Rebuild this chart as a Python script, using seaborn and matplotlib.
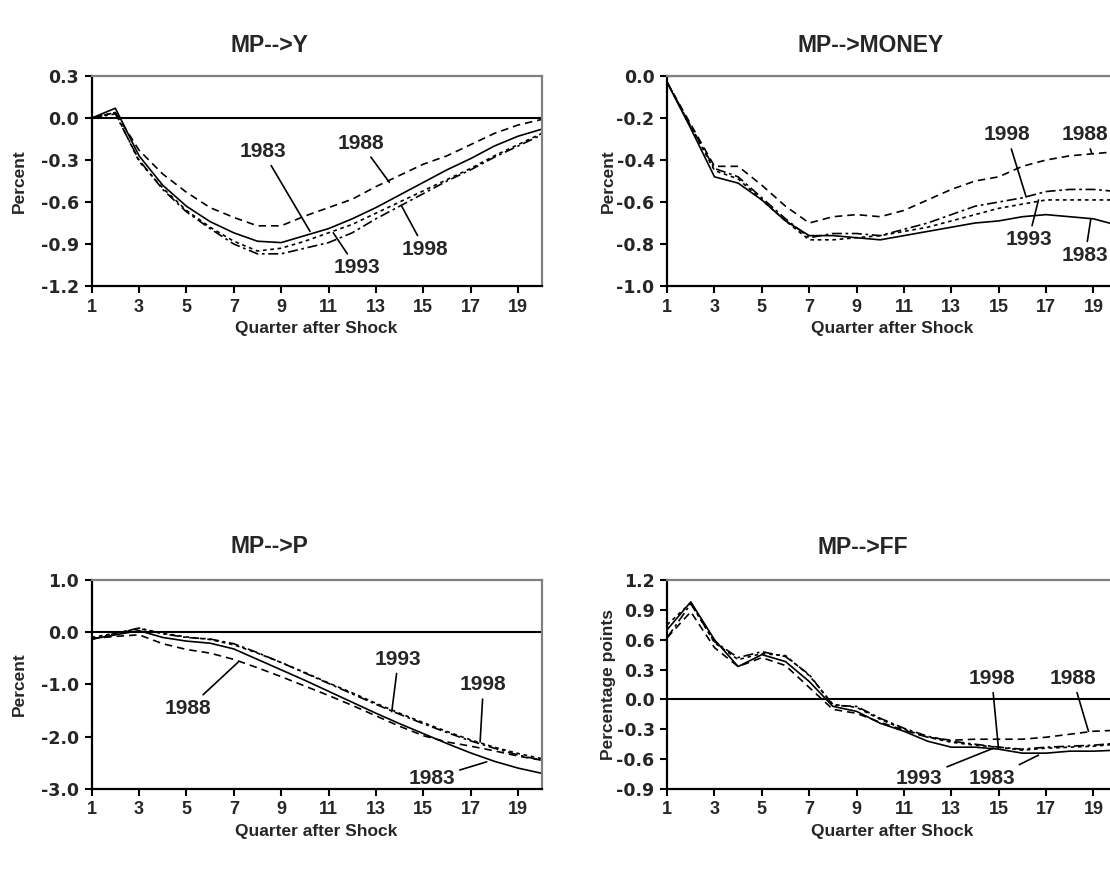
import matplotlib
matplotlib.use("Agg")
import matplotlib.pyplot as plt
import pandas as pd
import seaborn as sns
from matplotlib.ticker import FormatStrFormatter

# ── Data: impulse responses to a monetary policy shock, by sample end year ──
quarters = list(range(1, 21))
years = ["1983", "1988", "1993", "1998"]

# MP-->Y (percent)
y_1983 = [0.00, 0.07, -0.27, -0.48, -0.63, -0.74, -0.82, -0.88, -0.89, -0.84,
          -0.79, -0.72, -0.64, -0.55, -0.46, -0.37, -0.29, -0.20, -0.13, -0.08]
y_1988 = [0.00, 0.04, -0.23, -0.40, -0.53, -0.64, -0.71, -0.77, -0.77, -0.70,
          -0.64, -0.58, -0.49, -0.41, -0.33, -0.27, -0.19, -0.11, -0.05, -0.01]
y_1993 = [0.00, 0.04, -0.31, -0.50, -0.66, -0.78, -0.88, -0.95, -0.93, -0.88,
          -0.82, -0.76, -0.68, -0.60, -0.52, -0.44, -0.36, -0.27, -0.19, -0.11]
y_1998 = [0.00, 0.03, -0.30, -0.51, -0.67, -0.79, -0.90, -0.97, -0.97, -0.93,
          -0.89, -0.82, -0.72, -0.63, -0.54, -0.45, -0.37, -0.28, -0.20, -0.12]

# MP-->MONEY (percent)
m_1983 = [-0.03, -0.25, -0.48, -0.51, -0.59, -0.69, -0.76, -0.76, -0.77, -0.78,
          -0.76, -0.74, -0.72, -0.70, -0.69, -0.67, -0.66, -0.67, -0.68, -0.71]
m_1988 = [-0.03, -0.23, -0.43, -0.43, -0.52, -0.62, -0.70, -0.67, -0.66, -0.67,
          -0.64, -0.59, -0.54, -0.50, -0.48, -0.43, -0.40, -0.38, -0.37, -0.36]
m_1993 = [-0.03, -0.24, -0.45, -0.49, -0.59, -0.69, -0.78, -0.78, -0.77, -0.76,
          -0.74, -0.72, -0.69, -0.66, -0.63, -0.61, -0.59, -0.59, -0.59, -0.59]
m_1998 = [-0.03, -0.24, -0.44, -0.48, -0.58, -0.68, -0.77, -0.75, -0.75, -0.76,
          -0.73, -0.70, -0.66, -0.62, -0.60, -0.58, -0.55, -0.54, -0.54, -0.55]

# MP-->P (percent)
p_1983 = [-0.13, -0.05, 0.03, -0.10, -0.17, -0.21, -0.32, -0.52, -0.72, -0.92,
          -1.13, -1.34, -1.55, -1.75, -1.94, -2.13, -2.31, -2.47, -2.60, -2.70]
p_1988 = [-0.12, -0.08, -0.05, -0.22, -0.33, -0.40, -0.52, -0.68, -0.85, -1.03,
          -1.21, -1.40, -1.60, -1.80, -1.98, -2.10, -2.18, -2.27, -2.37, -2.45]
p_1993 = [-0.10, -0.02, 0.07, -0.02, -0.09, -0.14, -0.24, -0.40, -0.58, -0.77,
          -0.97, -1.16, -1.36, -1.55, -1.73, -1.90, -2.06, -2.20, -2.32, -2.42]
p_1998 = [-0.14, -0.02, 0.08, -0.03, -0.10, -0.13, -0.22, -0.39, -0.58, -0.78,
          -0.98, -1.18, -1.38, -1.57, -1.75, -1.92, -2.08, -2.22, -2.35, -2.45]

# MP-->FF (percentage points)
f_1983 = [0.70, 0.98, 0.60, 0.33, 0.45, 0.38, 0.18, -0.07, -0.12, -0.24,
          -0.32, -0.42, -0.48, -0.48, -0.50, -0.54, -0.54, -0.52, -0.52, -0.51]
f_1988 = [0.62, 0.88, 0.52, 0.33, 0.42, 0.34, 0.12, -0.10, -0.14, -0.23,
          -0.31, -0.38, -0.41, -0.40, -0.40, -0.40, -0.38, -0.35, -0.32, -0.31]
f_1993 = [0.75, 0.97, 0.57, 0.40, 0.46, 0.44, 0.24, -0.05, -0.08, -0.20,
          -0.30, -0.38, -0.43, -0.46, -0.48, -0.51, -0.49, -0.48, -0.47, -0.45]
f_1998 = [0.62, 0.96, 0.58, 0.42, 0.48, 0.43, 0.25, -0.06, -0.07, -0.19,
          -0.29, -0.37, -0.42, -0.45, -0.48, -0.50, -0.48, -0.47, -0.46, -0.44]

# ── Style ──────────────────────────────────────────────────────────────────
sns.set_theme(style="white")
plt.rcParams["font.family"] = ["Liberation Sans", "DejaVu Sans"]
plt.rcParams["font.weight"] = "bold"

LINE_DASHES = {"1983": "", "1988": (4.5, 3), "1993": (2.2, 2.2), "1998": (6, 2.2, 1.6, 2.2)}
GREY = "#808080"


def long_frame(series):
    wide = pd.DataFrame(dict(zip(years, series)))
    wide["quarter"] = quarters
    return wide.melt(id_vars="quarter", var_name="year", value_name="value")


panels = [
    dict(title="MP-->Y", ylabel="Percent", data=[y_1983, y_1988, y_1993, y_1998],
         ylim=(-1.2, 0.3), yticks=[0.3, 0.0, -0.3, -0.6, -0.9, -1.2],
         rect=[0.0826, 0.672, 0.4054, 0.2408], title_xy=(0.243, 0.948),
         notes=[("1983", (8.23, -0.24), (10.22, -0.81)),
                ("1988", (12.36, -0.18), (13.57, -0.46)),
                ("1993", (12.19, -1.07), (11.20, -0.82)),
                ("1998", (15.08, -0.94), (14.09, -0.63))]),
    dict(title="MP-->MONEY", ylabel="Percent", data=[m_1983, m_1988, m_1993, m_1998],
         ylim=(-1.0, 0.0), yticks=[0.0, -0.2, -0.4, -0.6, -0.8, -1.0],
         rect=[0.601, 0.672, 0.4054, 0.2408], title_xy=(0.784, 0.948),
         notes=[("1998", (15.35, -0.28), (16.16, -0.576)),
                ("1988", (18.65, -0.28), (18.93, -0.367)),
                ("1993", (16.26, -0.78), (16.68, -0.59)),
                ("1983", (18.65, -0.855), (18.89, -0.68))]),
    dict(title="MP-->P", ylabel="Percent", data=[p_1983, p_1988, p_1993, p_1998],
         ylim=(-3.0, 1.0), yticks=[1.0, 0.0, -1.0, -2.0, -3.0],
         rect=[0.0826, 0.0952, 0.4054, 0.2397], title_xy=(0.243, 0.373),
         notes=[("1988", (5.08, -1.46), (7.19, -0.57)),
                ("1993", (13.95, -0.52), (13.67, -1.52)),
                ("1998", (17.54, -1.01), (17.40, -2.10)),
                ("1983", (15.36, -2.80), (17.68, -2.48))]),
    dict(title="MP-->FF", ylabel="Percentage points", data=[f_1983, f_1988, f_1993, f_1998],
         ylim=(-0.9, 1.2), yticks=[1.2, 0.9, 0.6, 0.3, 0.0, -0.3, -0.6, -0.9],
         rect=[0.601, 0.0952, 0.4054, 0.2397], title_xy=(0.777, 0.372),
         notes=[("1998", (14.71, 0.21), (14.99, -0.49)),
                ("1988", (18.13, 0.21), (18.79, -0.32)),
                ("1993", (11.64, -0.79), (14.78, -0.49)),
                ("1983", (14.73, -0.79), (16.68, -0.56))]),
]

fig = plt.figure(figsize=(11.1, 8.72), dpi=100)

for p in panels:
    ax = fig.add_axes(p["rect"])
    ax.axhline(0, color="black", lw=1.5, zorder=1)
    sns.lineplot(data=long_frame(p["data"]), x="quarter", y="value",
                 style="year", dashes=LINE_DASHES, color="black",
                 linewidth=1.2, legend=False, ax=ax)

    ax.set_xlim(1, 20)
    ax.set_ylim(*p["ylim"])
    ax.set_xticks(range(1, 20, 2))
    ax.set_yticks(p["yticks"])
    ax.yaxis.set_major_formatter(FormatStrFormatter("%.1f"))
    ax.tick_params(axis="both", direction="out", length=5, width=1.5,
                   color="black", pad=4, left=True, bottom=True)
    for lab in ax.get_xticklabels():
        lab.set_fontweight("bold")
        lab.set_fontsize(13)
    for lab in ax.get_yticklabels():
        lab.set_family(["DejaVu Sans"])
        lab.set_fontweight("bold")
        lab.set_fontsize(12.5)

    for side in ["left", "bottom"]:
        ax.spines[side].set_color("black")
        ax.spines[side].set_linewidth(1.6)
    for side in ["top", "right"]:
        ax.spines[side].set_color(GREY)
        ax.spines[side].set_linewidth(1.6)

    ax.set_xlabel("Quarter after Shock", fontsize=12.5, fontweight="bold", labelpad=4)
    ax.set_ylabel(p["ylabel"], fontsize=12.5, fontweight="bold")
    ax.yaxis.set_label_coords(-0.145 if p["rect"][0] < 0.5 else -0.113, 0.5)

    for text, txt_xy, line_xy in p["notes"]:
        ax.annotate(text, xy=line_xy, xytext=txt_xy, ha="center", va="center",
                    fontsize=15, fontweight="bold",
                    arrowprops=dict(arrowstyle="-", color="black", lw=1.2,
                                    shrinkA=1, shrinkB=0))

    fig.text(p["title_xy"][0], p["title_xy"][1], p["title"], ha="center",
             va="center", fontsize=16.5, fontweight="bold")

fig.savefig("out.png", dpi=100)
